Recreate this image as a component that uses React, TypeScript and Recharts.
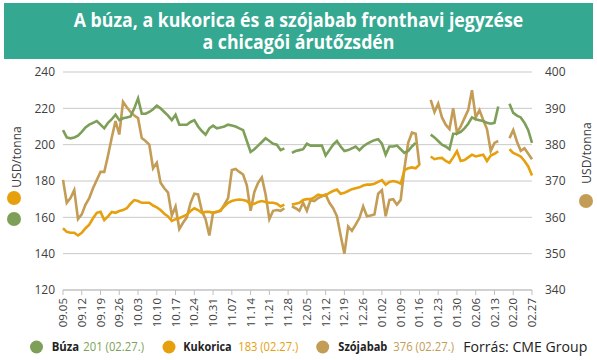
import React from 'react';
import { LineChart, Line, XAxis, YAxis, CartesianGrid } from 'recharts';

// heti címkék (csütörtökök)
const weeks = [
  '09.05', '09.12', '09.19', '09.26', '10.03', '10.10', '10.17', '10.24', '10.31',
  '11.07', '11.14', '11.21', '11.28', '12.05', '12.12', '12.19', '12.26',
  '01.02', '01.09', '01.16', '01.23', '01.30', '02.06', '02.13', '02.20', '02.27',
];

// USD/tonna, napi záróárak (bal tengely)
const buza = [
  208, 204, 203.5, 204, 205, 207, 209.5, 211, 212, 213,
  211, 209, 212, 214, 216.5, 213.5, 214.5, 215, 215.5, 220,
  225.5, 217, 217, 218, 219.5, 221.5, 220, 218, 216, 213.5,
  216.5, 211, 211, 211, 212.5, 213.5, 210, 207.5, 205.5, 209,
  210.5, 209, 209.5, 210, 211, 210.5, 210, 209, 208, 202,
  196, 197.5, 199.5, 201.5, 203.5, 202, 200.5, 200, 197, 198,
  null, 195.5, 196.5, 197, 197.5, 200.5, 199.5, 199.5, 199.5, 199.5,
  194, 197, 200, 202, 199, 196.5, 197, 198, 199, 197,
  199, 200.5, 201.5, 202.5, 203, 200.5, 194.5, 199, 199, 199.5,
  197.5, 195.5, 196.5, 199, 201, null, null, null, 205.5, 204,
  202, 200, 199, 197.5, 206, 206, 207, 209, 211.5, 215,
  214, 213.5, 213, 212, 211.5, 212, 221, null, null, 222.5,
  217.5, 216, 215, 212, 208, 201,
];

const kukorica = [
  154, 152, 151.5, 151.5, 150, 151.5, 154, 156, 159.5, 162.5,
  163, 158.5, 160.5, 163, 162.5, 163.5, 164, 165, 167.5, 169.5,
  169, 168, 168, 168, 166.5, 165.5, 164, 162, 160.5, 158,
  159, 159.5, 160.5, 161.5, 163.5, 165, 164, 162.5, 163, 163,
  162.5, 163, 164, 166, 168, 169, 169.5, 169.8, 169.5, 169,
  167, 167.5, 168.5, 169, 168.5, 168, 168, 167.5, 166, 167,
  null, 167, 167.5, 168, 169.5, 170, 170, 171, 172.5, 172,
  172, 173.5, 174.5, 175.3, 173, 173.5, 174.5, 175.5, 176, 176.5,
  177.5, 178, 178, 178.5, 179.5, 180.5, 178, 179.5, 180, 179.5,
  178.5, 186, 187, 187.5, 187, 189, null, null, 193.5, 192,
  192.5, 192.7, 191, 190, 193, 196.4, 191, 191.5, 193, 194.5,
  193.5, 194, 194.5, 191, 194, 195, 196.4, null, null, 197.5,
  195.5, 194.5, 193.5, 191, 188, 183,
];

// USD/tonna (jobb tengely)
const szojabab = [
  370.3, 364, 365.3, 367.5, 359.5, 360.8, 363.5, 365.3, 368, 370.3,
  372.5, 372.5, 377, 382, 386.5, 382.8, 391.8, 390.3, 389, 388,
  387.3, 381.8, 381, 380, 373.5, 375, 369.5, 368, 366.8, 360.5,
  363, 356.8, 358.5, 360, 364, 366.5, 366.3, 361.8, 359.5, 355,
  361.3, 361.5, 361.8, 363.5, 365.3, 373, 373.3, 372.5, 371.8, 368.8,
  361.8, 367, 369.5, 371, 366.3, 359.5, 361.8, 362, 361.8, 362.5,
  null, 363, 362.5, 361.8, 364, 361.8, 364.8, 364.5, 365.3, 365.8,
  366.3, 364, 362.5, 360.3, 355, 350, 357.5, 356.3, 358, 359.8,
  363, 360.3, 360.5, 360.8, 366.5, 367.5, 360.3, 364.8, 365, 363.5,
  364.8, 373.5, 380.5, 383.3, 383, 374.3, null, null, 392.3, 389,
  391.3, 387.5, 385.5, 384.3, 390, 383.3, 385, 387.3, 389.5, 395,
  387.5, 389.5, 386.8, 384.3, 378.3, 380.5, 381, null, null, 381.8,
  384, 380.8, 378.3, 379, 377.5, 376,
];

const leftTicks = [120, 140, 160, 180, 200, 220, 240];
const rightTicks = [340, 350, 360, 370, 380, 390, 400];

const GREEN = '#7d9f57';
const ORANGE = '#e6a00e';
const TAN = '#c39c55';
const TEXT = '#404040';
const FONT = '"Open Sans", "Noto Sans", sans-serif';

const data = buza.map((v, i) => ({
  i,
  buza: v,
  kukorica: kukorica[i],
  szojabab: szojabab[i],
}));
const xTicks = weeks.map((_, k) => k * 5);

const DateTick = (props: any) => {
  const { x, y, payload } = props;
  return (
    <g transform={`translate(${x},${y})`}>
      <text transform="rotate(-90)" textAnchor="end" dy="0.35em" fontSize={11.5} fill={TEXT} fontFamily={FONT}>
        {weeks[payload.value / 5]}
      </text>
    </g>
  );
};

const Dot = ({ color, left, top }: { color: string; left: number; top: number }) => (
  <div style={{ position: 'absolute', left: left - 7, top: top - 7, width: 14, height: 14, borderRadius: 7, background: color }} />
);

export default function App() {
  return (
    <div style={{ position: 'absolute', left: 0, top: 0, width: 597, height: 360, background: '#fff', fontFamily: FONT, overflow: 'hidden' }}>
      <div style={{ position: 'absolute', left: 4, top: 3, width: 589, height: 56, background: '#34a891' }} />
      <div
        style={{
          position: 'absolute', left: 0, top: 8.75, width: 597, textAlign: 'center', color: '#fff',
          fontWeight: 700, fontSize: 20, lineHeight: '22px', transform: 'scaleX(0.885)', whiteSpace: 'nowrap',
        }}
      >
        A búza, a kukorica és a szójabab fronthavi jegyzése
        <br />
        a chicagói árutőzsdén
      </div>

      <div style={{ position: 'absolute', left: 0, top: 0 }}>
        <LineChart width={597} height={360} data={data} margin={{ top: 72, right: 0, bottom: 30, left: 0 }}>
          <CartesianGrid yAxisId="l" horizontal vertical={false} stroke="#c9c9c9" strokeWidth={1} />
          <XAxis
            dataKey="i"
            type="category"
            ticks={xTicks}
            interval={0}
            height={40}
            tick={<DateTick />}
            tickSize={5}
            tickMargin={3}
            axisLine={{ stroke: '#bfbfbf' }}
            tickLine={{ stroke: '#bfbfbf' }}
          />
          <YAxis
            yAxisId="l"
            orientation="left"
            width={63}
            domain={[120, 240]}
            ticks={leftTicks}
            axisLine={false}
            tickLine={false}
            tickMargin={2}
            tick={{ fill: TEXT, fontSize: 12, fontFamily: FONT }}
          />
          <YAxis
            yAxisId="r"
            orientation="right"
            width={65}
            domain={[340, 400]}
            ticks={rightTicks}
            axisLine={false}
            tickLine={false}
            tickMargin={7}
            tick={{ fill: TEXT, fontSize: 12, fontFamily: FONT, textAnchor: 'start' }}
          />
          <Line yAxisId="r" dataKey="szojabab" stroke={TAN} strokeWidth={2.6} dot={false} isAnimationActive={false} connectNulls={false} />
          <Line yAxisId="l" dataKey="kukorica" stroke={ORANGE} strokeWidth={2.6} dot={false} isAnimationActive={false} connectNulls={false} />
          <Line yAxisId="l" dataKey="buza" stroke={GREEN} strokeWidth={2.6} dot={false} isAnimationActive={false} connectNulls={false} />
        </LineChart>
      </div>

      {/* bal tengely felirat */}
      <div style={{ position: 'absolute', left: 16, top: 157, transform: 'translate(-50%,-50%) rotate(-90deg)', fontSize: 12, color: TEXT, whiteSpace: 'nowrap' }}>
        USD/tonna
      </div>
      <Dot color={ORANGE} left={14} top={198} />
      <Dot color={GREEN} left={14} top={219} />

      {/* jobb tengely felirat */}
      <div style={{ position: 'absolute', left: 586, top: 153, transform: 'translate(-50%,-50%) rotate(-90deg)', fontSize: 12, color: TEXT, whiteSpace: 'nowrap' }}>
        USD/tonna
      </div>
      <Dot color={TAN} left={586} top={201} />

      {/* jelmagyarázat */}
      <svg width={597} height={360} style={{ position: 'absolute', left: 0, top: 0, pointerEvents: 'none' }} fontFamily={FONT}>
        <circle cx={36.5} cy={347} r={6.5} fill={GREEN} />
        <text x={51.7} y={351} fontSize={12} fontWeight={700} fill="#222" textLength={27.5} lengthAdjust="spacingAndGlyphs">Búza</text>
        <text x={83.3} y={351} fontSize={12} fill={GREEN} textLength={60.7} lengthAdjust="spacingAndGlyphs">201 (02.27.)</text>

        <circle cx={169} cy={347} r={6.5} fill={ORANGE} />
        <text x={183.3} y={351} fontSize={12} fontWeight={700} fill="#222" textLength={48.4} lengthAdjust="spacingAndGlyphs">Kukorica</text>
        <text x={238.3} y={351} fontSize={12} fill={ORANGE} textLength={60} lengthAdjust="spacingAndGlyphs">183 (02.27.)</text>

        <circle cx={322.7} cy={347} r={6.5} fill={TAN} />
        <text x={338.3} y={351} fontSize={12} fontWeight={700} fill="#222" textLength={49} lengthAdjust="spacingAndGlyphs">Szójabab</text>
        <text x={393.3} y={351} fontSize={12} fill={TAN} textLength={60.7} lengthAdjust="spacingAndGlyphs">376 (02.27.)</text>

        <text x={463.3} y={352} fontSize={15} fill="#222" textLength={124} lengthAdjust="spacingAndGlyphs">Forrás: CME Group</text>
      </svg>
    </div>
  );
}
